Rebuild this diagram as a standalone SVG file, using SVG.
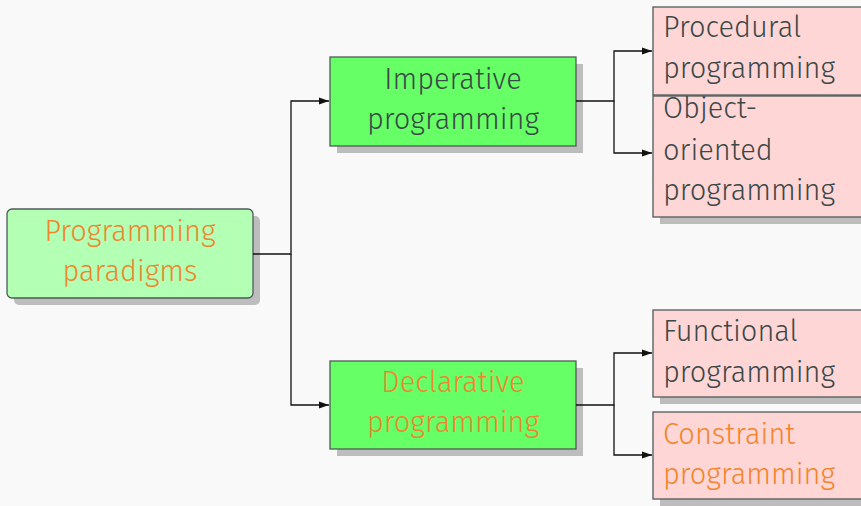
<svg xmlns="http://www.w3.org/2000/svg" width="861" height="506" viewBox="0 0 861 506">
  <defs>
    <marker id="arrow" viewBox="0 0 10 10" refX="10" refY="5" markerWidth="10" markerHeight="10" markerUnits="userSpaceOnUse" orient="auto">
      <path d="M0,1.5 L10,5 L0,8.5 Z" fill="#111"/>
    </marker>
  </defs>
  <style>
    text { font-family: "Fira Sans", "Open Sans", "Noto Sans", sans-serif; font-weight: 300; font-size: 29px; }
    .dark { fill: #3b4848; }
    .orange { fill: #f0852d; }
    .mid { text-anchor: middle; }
    .shadow { fill: #bdbdbd; }
    .box { stroke: #4f5a5a; stroke-width: 1.3; }
    .root { fill: #b3ffb3; }
    .branch { fill: #66ff66; }
    .leaf { fill: #ffd6d6; }
    .wire { fill: none; stroke: #111; stroke-width: 1.3; }
  </style>
  <rect width="861" height="506" fill="#f9f9f9"/>

  <g id="paradigms">
    <rect class="shadow" x="14" y="216" width="246" height="89" rx="5"/>
    <rect class="box root" x="7" y="209" width="246" height="89" rx="5"/>
    <text class="orange mid" x="130" y="241">Programming</text>
    <text class="orange mid" x="130" y="281">paradigms</text>
  </g>

  <g id="imperative">
    <rect class="shadow" x="337" y="64" width="246" height="89"/>
    <rect class="box branch" x="330" y="57" width="246" height="89"/>
    <text class="dark mid" x="453" y="89">Imperative</text>
    <text class="dark mid" x="453" y="129">programming</text>
  </g>

  <g id="declarative">
    <rect class="shadow" x="337" y="368" width="246" height="88"/>
    <rect class="box branch" x="330" y="361" width="246" height="88"/>
    <text class="orange mid" x="453" y="392">Declarative</text>
    <text class="orange mid" x="453" y="432">programming</text>
  </g>

  <g id="procedural">
    <rect class="shadow" x="660" y="14" width="210" height="88"/>
    <rect class="box leaf" x="653" y="7" width="210" height="88"/>
    <text class="dark" x="663" y="37">Procedural</text>
    <text class="dark" x="663" y="78">programming</text>
  </g>

  <g id="object-oriented">
    <rect class="shadow" x="660" y="103" width="210" height="121"/>
    <rect class="box leaf" x="653" y="96" width="210" height="121"/>
    <text class="dark" x="663" y="118">Object-</text>
    <text class="dark" x="663" y="160">oriented</text>
    <text class="dark" x="663" y="200">programming</text>
  </g>

  <g id="functional">
    <rect class="shadow" x="660" y="317" width="210" height="87"/>
    <rect class="box leaf" x="653" y="310" width="210" height="87"/>
    <text class="dark" x="663" y="341">Functional</text>
    <text class="dark" x="663" y="382">programming</text>
  </g>

  <g id="constraint">
    <rect class="shadow" x="660" y="419" width="210" height="87"/>
    <rect class="box leaf" x="653" y="412" width="210" height="87"/>
    <text class="orange" x="663" y="444">Constraint</text>
    <text class="orange" x="663" y="484">programming</text>
  </g>

  <g id="connectors">
    <path class="wire" d="M253,254 H291 V101 H329" marker-end="url(#arrow)"/>
    <path class="wire" d="M291,254 V405 H329" marker-end="url(#arrow)"/>
    <path class="wire" d="M576,101 H614 V51 H652" marker-end="url(#arrow)"/>
    <path class="wire" d="M614,101 V153 H652" marker-end="url(#arrow)"/>
    <path class="wire" d="M576,405 H614 V353 H652" marker-end="url(#arrow)"/>
    <path class="wire" d="M614,405 V455 H652" marker-end="url(#arrow)"/>
  </g>
</svg>
